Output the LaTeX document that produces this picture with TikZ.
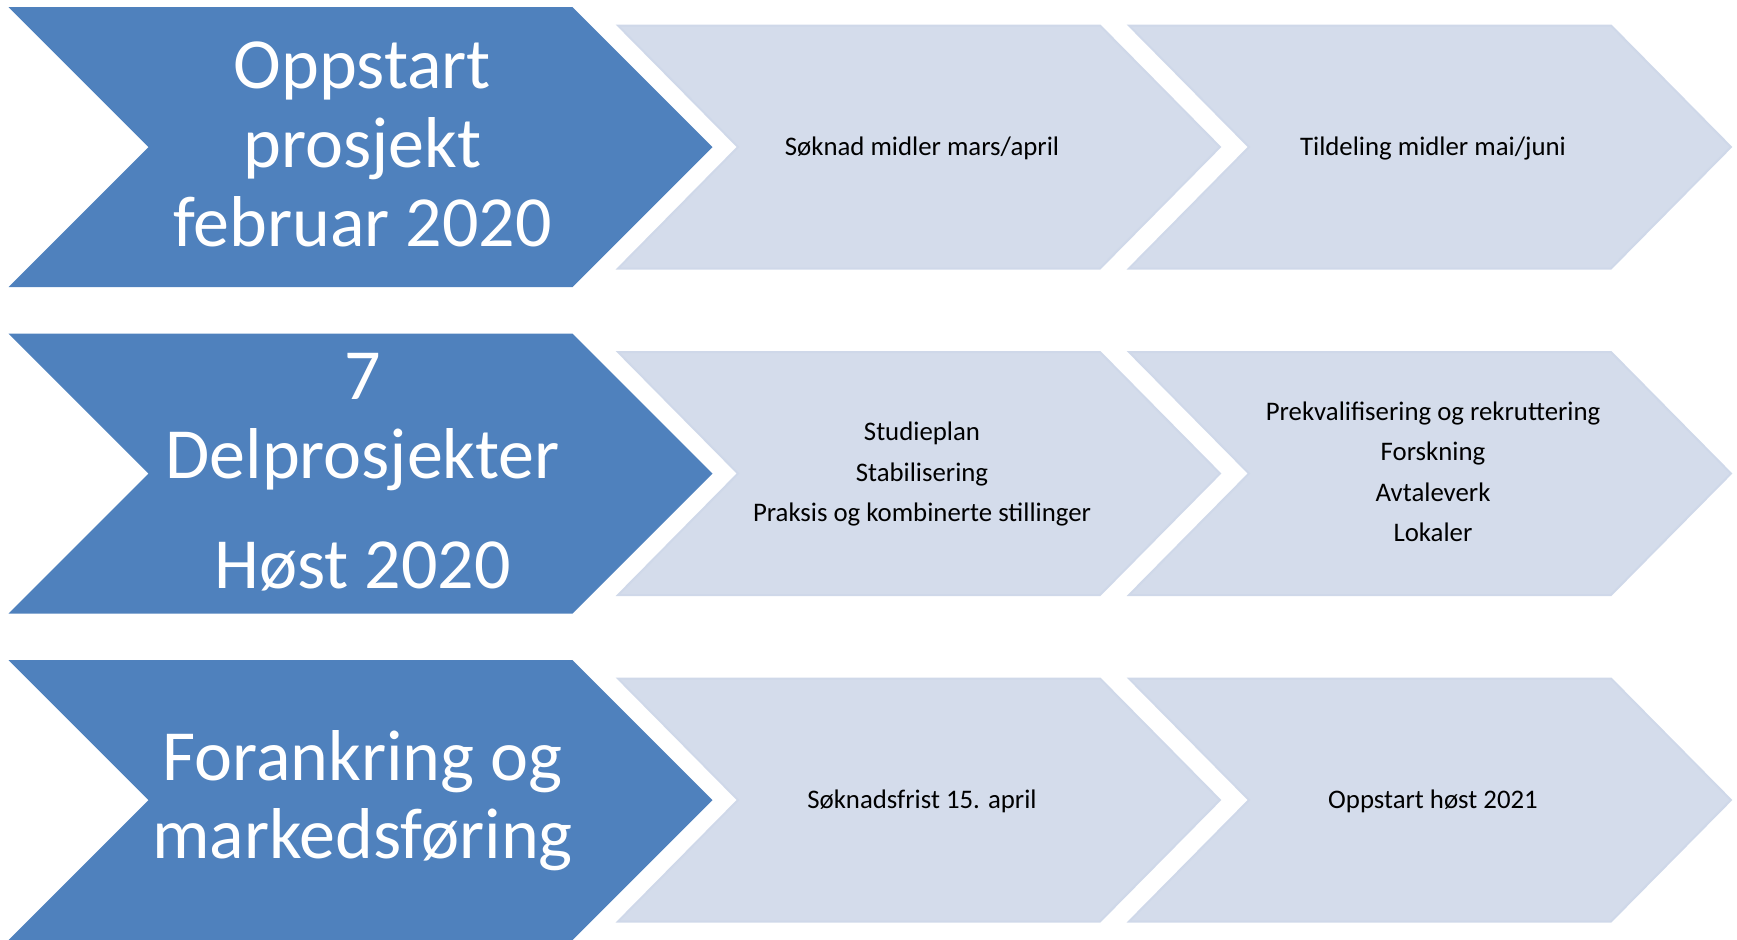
\documentclass[tikz,border=0pt]{standalone}
\usepackage{fontspec}
\setmainfont{Carlito}
\definecolor{darkchev}{HTML}{4F81BD}
\definecolor{lightchev}{HTML}{D4DCEB}
\definecolor{lightedge}{HTML}{CFD8E9}
% #1 style, #2 left x, #3 notch x, #4 top-right x, #5 tip x, #6 centre y, #7 half height
\newcommand\drawchev[7]{%
  \path[#1] (#2,#6-#7) -- (#4,#6-#7) -- (#5,#6) -- (#4,#6+#7) -- (#2,#6+#7) -- (#3,#6) -- cycle;}
\begin{document}
\begin{tikzpicture}[x=0.5pt,y=-0.5pt,
  bigtext/.style={text=white,font=\fontsize{36}{40}\selectfont,anchor=base,inner sep=0pt},
  smalltext/.style={text=black,font=\fontsize{13.4}{20.25}\selectfont,anchor=base,inner sep=0pt},
  darkfill/.style={fill=darkchev},
  lightfill/.style={fill=lightchev,draw=lightedge,line width=1pt,line join=miter}]
\useasboundingbox (0,0) rectangle (1737,939);

% row 1
\drawchev{darkfill}{8.5}{148.5}{572.5}{712.5}{147}{140}
\drawchev{lightfill}{618}{738}{1100}{1220}{147}{121.5}
\drawchev{lightfill}{1129}{1249}{1611}{1731}{147}{121.5}
% row 2
\drawchev{darkfill}{8.5}{148.5}{572.5}{712.5}{473.5}{140}
\drawchev{lightfill}{618}{738}{1100}{1220}{473.5}{121.5}
\drawchev{lightfill}{1129}{1249}{1611}{1731}{473.5}{121.5}
% row 3
\drawchev{darkfill}{8.5}{148.5}{572.5}{712.5}{800}{140}
\drawchev{lightfill}{618}{738}{1100}{1220}{800}{121.5}
\drawchev{lightfill}{1129}{1249}{1611}{1731}{800}{121.5}

% row 1 texts
\node[bigtext] (r1a) at (362.5,88) {Oppstart};
\node[bigtext] (r1b) at (362.5,167) {prosjekt};
\node[bigtext] (r1c) at (362.5,246.5) {februar 2020};
\node[smalltext] (r1m) at (922,155) {Søknad midler mars/april};
\node[smalltext] (r1r) at (1433,155) {Tildeling midler mai/juni};

% row 2 texts
\node[bigtext] (r2a) at (362.5,399) {7};
\node[bigtext] (r2b) at (362.5,478) {Delprosjekter};
\node[bigtext] (r2c) at (362.5,588) {Høst 2020};
\node[smalltext] (r2m1) at (922,440.5) {Studieplan};
\node[smalltext] (r2m2) at (922,481) {Stabilisering};
\node[smalltext] (r2m3) at (922,521.5) {Praksis og kombinerte stillinger};
\node[smalltext] (r2r1) at (1433,420) {Prekvalifisering og rekruttering};
\node[smalltext] (r2r2) at (1433,460.5) {Forskning};
\node[smalltext] (r2r3) at (1433,501) {Avtaleverk};
\node[smalltext] (r2r4) at (1433,541.5) {Lokaler};

% row 3 texts
\node[bigtext] (r3a) at (362.5,780) {Forankring og};
\node[bigtext] (r3b) at (362.5,858) {markedsføring};
\node[smalltext] (r3m) at (922,808) {Søknadsfrist 15. april};
\node[smalltext] (r3r) at (1433,808) {Oppstart høst 2021};
\end{tikzpicture}
\end{document}
